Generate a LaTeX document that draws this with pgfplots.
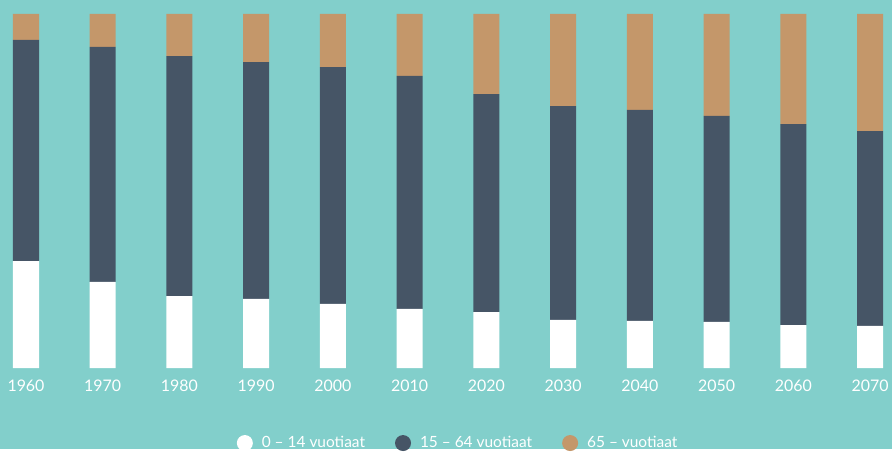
\documentclass[border=0pt]{standalone}
\usepackage{fontspec}
\setmainfont{Lato}
\usepackage{pgfplots}
\usepackage{pgfplotstable}
\pgfplotsset{compat=1.18}
\definecolor{bg}{RGB}{130,207,203}
\definecolor{slate}{RGB}{70,85,102}
\definecolor{tan}{RGB}{196,151,106}

% share of population by age group, percent
\pgfplotstableread{
year young working old
1960 30.2 62.5 7.3
1970 24.3 66.4 9.3
1980 20.3 67.8 11.9
1990 19.5 66.9 13.6
2000 18.1 66.9 15.0
2010 16.7 65.8 17.5
2020 15.8 61.6 22.6
2030 13.6 60.4 26.0
2040 13.3 59.6 27.1
2050 13.0 58.2 28.8
2060 12.1 56.8 31.1
2070 11.9 55.0 33.1
}\agedata

\begin{document}
\begin{tikzpicture}[x=1bp,y=1bp]
\fill[bg] (0,0) rectangle (892,449);
\begin{axis}[
    at={(26bp,81bp)}, anchor=south west,
    scale only axis, width=844bp, height=354bp,
    ybar stacked, bar width=26bp,
    xmin=1960, xmax=2070, ymin=0, ymax=100,
    clip=false,
    axis line style={draw=none},
    tick style={draw=none},
    ytick=\empty,
    xtick=data,
    xticklabel style={text=white, font=\fontsize{16}{19}\selectfont, yshift=-8bp,
        /pgf/number format/1000 sep=, /pgf/number format/assume math mode=true},
    legend style={at={(0.512,-0.212)}, anchor=center, draw=none, fill=none,
        text=white, font=\fontsize{15.5}{18}\selectfont,
        /tikz/every even column/.append style={column sep=28bp}},
    legend columns=3,
    legend image code/.code={\fill[#1] (0bp,0bp) circle (8bp); \path (15bp,0bp);},
]
\addplot[fill=white, draw=none] table[x=year, y=young] {\agedata};
\addplot[fill=slate, draw=none] table[x=year, y=working] {\agedata};
\addplot[fill=tan, draw=none] table[x=year, y=old] {\agedata};
\legend{0 – 14 vuotiaat, 15 – 64 vuotiaat, 65 – vuotiaat}
\end{axis}
\end{tikzpicture}
\end{document}
